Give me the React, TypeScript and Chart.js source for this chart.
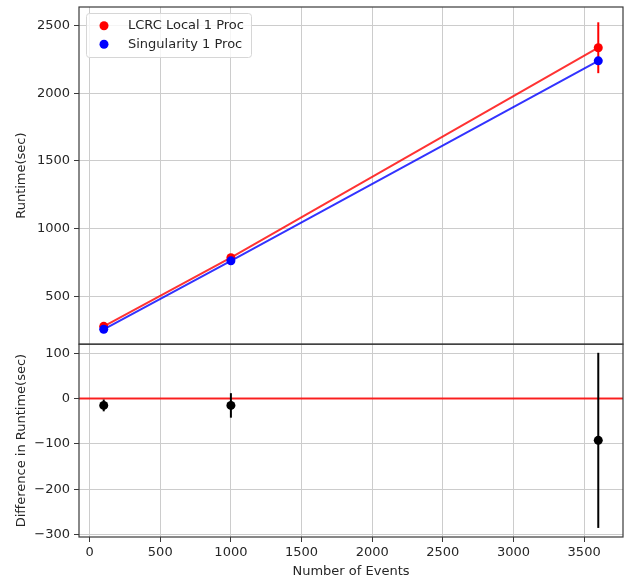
import React, { useEffect, useRef } from 'react';
import { Chart, registerables } from 'chart.js';

Chart.register(...registerables);

// ---- data ----
const events = [100, 1000, 3600];
const lcrcRuntime = [278, 785, 2337];
const lcrcError = [6, 12, 188];
const singRuntime = [256, 762, 2240];
const singError = [4, 8, 14];
const diffRuntime = [-15, -15, -92];
const diffError = [13, 27, 193];

const xTicks = [0, 500, 1000, 1500, 2000, 2500, 3000, 3500];
const runtimeTicks = [500, 1000, 1500, 2000, 2500];
const diffTicks = [-300, -200, -100, 0, 100];

const xRange = [-75, 3775];
const runtimeRange = [146, 2638];
const diffRange = [-305, 120];

const labels = ['LCRC Local 1 Proc', 'Singularity 1 Proc'];

const FONT = { family: "'DejaVu Sans', sans-serif", size: 13 };
const TEXT = '#262626';
const GRID = '#cccccc';
const SPINE = '#3a3a3a';

const fmt = (v: number) => (v < 0 ? '\u2212' + String(-v) : String(v));

const errorMap: Record<number, { err: number[]; color: string; axis: string }> = {
  0: { err: lcrcError, color: '#ff0000', axis: 'y' },
  1: { err: singError, color: '#0000ff', axis: 'y' },
  2: { err: diffError, color: '#000000', axis: 'y2' },
};

const errorBarPlugin = {
  id: 'errorBars',
  beforeDatasetDraw(chart: any, args: any) {
    const spec = errorMap[args.index];
    if (!spec) return;
    const ds = chart.data.datasets[args.index];
    const xs = chart.scales.x;
    const ys = chart.scales[spec.axis];
    const ctx = chart.ctx;
    ctx.save();
    ctx.strokeStyle = spec.color;
    ctx.lineWidth = 2;
    ds.data.forEach((p: any, i: number) => {
      const px = xs.getPixelForValue(p.x);
      const y1 = ys.getPixelForValue(p.y + spec.err[i]);
      const y2 = ys.getPixelForValue(p.y - spec.err[i]);
      ctx.beginPath();
      ctx.moveTo(px, y1);
      ctx.lineTo(px, y2);
      ctx.stroke();
    });
    ctx.restore();
  },
};

const zeroLinePlugin = {
  id: 'zeroLine',
  beforeDatasetsDraw(chart: any) {
    const ys = chart.scales.y2;
    const ca = chart.chartArea;
    const y = ys.getPixelForValue(0);
    const ctx = chart.ctx;
    ctx.save();
    ctx.strokeStyle = 'rgba(255,0,0,0.85)';
    ctx.lineWidth = 2;
    ctx.beginPath();
    ctx.moveTo(ca.left, y);
    ctx.lineTo(ca.right, y);
    ctx.stroke();
    ctx.restore();
  },
};

const spinePlugin = {
  id: 'spines',
  afterDraw(chart: any) {
    const ctx = chart.ctx;
    const ca = chart.chartArea;
    ctx.save();
    ctx.strokeStyle = SPINE;
    ctx.lineWidth = 1.2;
    ['y', 'y2'].forEach((id) => {
      const s = chart.scales[id];
      ctx.strokeRect(ca.left, s.top, ca.right - ca.left, s.bottom - s.top);
    });
    ctx.restore();
  },
};

const legendPlugin = {
  id: 'customLegend',
  afterDraw(chart: any) {
    const ctx = chart.ctx;
    const top = chart.scales.y.top;
    const left = chart.chartArea.left;
    const bx = left + 7;
    const by = top + 6;
    const bw = 165;
    const bh = 44;
    ctx.save();
    ctx.fillStyle = 'rgba(255,255,255,0.8)';
    ctx.strokeStyle = '#d6d6d6';
    ctx.lineWidth = 1;
    ctx.beginPath();
    (ctx as any).roundRect(bx + 0.5, by + 0.5, bw, bh, 3);
    ctx.fill();
    ctx.stroke();
    const colors = ['#ff0000', '#0000ff'];
    ctx.font = `${FONT.size}px ${FONT.family}`;
    ctx.textBaseline = 'middle';
    labels.forEach((lab, i) => {
      const cy = by + 12.7 + i * 18.6;
      ctx.fillStyle = colors[i];
      ctx.beginPath();
      ctx.arc(bx + 18, cy, 4.5, 0, Math.PI * 2);
      ctx.fill();
      ctx.fillStyle = TEXT;
      ctx.fillText(lab, bx + 42, cy);
    });
    ctx.restore();
  },
};

function toPoints(ys: number[]) {
  return events.map((x, i) => ({ x, y: ys[i] }));
}

const tickSetter = (arr: number[]) => (s: any) => {
  s.ticks = arr.map((v) => ({ value: v }));
};

const fitY = (s: any) => {
  s.width = 79;
  s.paddingTop = 0;
  s.paddingBottom = 0;
};

export default function App() {
  const ref = useRef<HTMLCanvasElement>(null);

  useEffect(() => {
    if (!ref.current) return;
    const chart = new Chart(ref.current, {
      type: 'scatter',
      data: {
        datasets: [
          {
            label: labels[0],
            data: toPoints(lcrcRuntime),
            yAxisID: 'y',
            showLine: true,
            borderColor: 'rgba(255,0,0,0.8)',
            borderWidth: 2,
            backgroundColor: '#ff0000',
            pointBackgroundColor: '#ff0000',
            pointBorderWidth: 0,
            pointRadius: 4.5,
            order: 2,
          } as any,
          {
            label: labels[1],
            data: toPoints(singRuntime),
            yAxisID: 'y',
            showLine: true,
            borderColor: 'rgba(0,0,255,0.8)',
            borderWidth: 2,
            backgroundColor: '#0000ff',
            pointBackgroundColor: '#0000ff',
            pointBorderWidth: 0,
            pointRadius: 4.5,
            order: 1,
          } as any,
          {
            label: 'Difference',
            data: toPoints(diffRuntime),
            yAxisID: 'y2',
            showLine: false,
            backgroundColor: '#000000',
            pointBackgroundColor: '#000000',
            pointBorderWidth: 0,
            pointRadius: 4.5,
            order: 0,
          } as any,
        ],
      },
      options: {
        animation: false,
        responsive: true,
        maintainAspectRatio: false,
        layout: { autoPadding: false, padding: { top: 7, right: 1, left: 0, bottom: 0 } },
        plugins: { legend: { display: false }, tooltip: { enabled: false } },
        scales: {
          y2: {
            type: 'linear',
            position: 'left',
            stack: 'panels',
            stackWeight: 193,
            min: diffRange[0],
            max: diffRange[1],
            afterBuildTicks: tickSetter(diffTicks),
            afterFit: fitY,
            grid: { color: GRID, tickColor: SPINE, tickLength: 5, lineWidth: 1 },
            border: { display: false },
            ticks: { font: FONT, color: TEXT, padding: 4, callback: (v: any) => fmt(v) },
            title: {
              display: true,
              text: 'Difference in Runtime(sec)',
              font: FONT,
              color: TEXT,
              padding: { top: 14, bottom: 0 },
            },
          },
          y: {
            type: 'linear',
            position: 'left',
            stack: 'panels',
            stackWeight: 337.5,
            min: runtimeRange[0],
            max: runtimeRange[1],
            afterBuildTicks: tickSetter(runtimeTicks),
            afterFit: fitY,
            grid: { color: GRID, tickColor: SPINE, tickLength: 5, lineWidth: 1 },
            border: { display: false },
            ticks: { font: FONT, color: TEXT, padding: 4, callback: (v: any) => fmt(v) },
            title: {
              display: true,
              text: 'Runtime(sec)',
              font: FONT,
              color: TEXT,
              padding: { top: 14, bottom: 0 },
            },
          },
          x: {
            type: 'linear',
            position: 'bottom',
            min: xRange[0],
            max: xRange[1],
            afterBuildTicks: tickSetter(xTicks),
            afterFit: (s: any) => {
              s.height = 42;
              s.paddingLeft = 0;
              s.paddingRight = 0;
            },
            grid: { color: GRID, tickColor: SPINE, tickLength: 5, lineWidth: 1 },
            border: { display: false },
            ticks: { font: FONT, color: TEXT, padding: 3, maxRotation: 0, autoSkip: false, callback: (v: any) => fmt(v) },
            title: {
              display: true,
              text: 'Number of Events',
              font: FONT,
              color: TEXT,
              padding: { top: 0, bottom: 0 },
            },
          },
        } as any,
      },
      plugins: [zeroLinePlugin, errorBarPlugin, spinePlugin, legendPlugin],
    });
    return () => chart.destroy();
  }, []);

  return (
    <div style={{ position: 'absolute', left: 0, top: 0, width: 624, height: 579, background: '#fff' }}>
      <canvas ref={ref} />
    </div>
  );
}
